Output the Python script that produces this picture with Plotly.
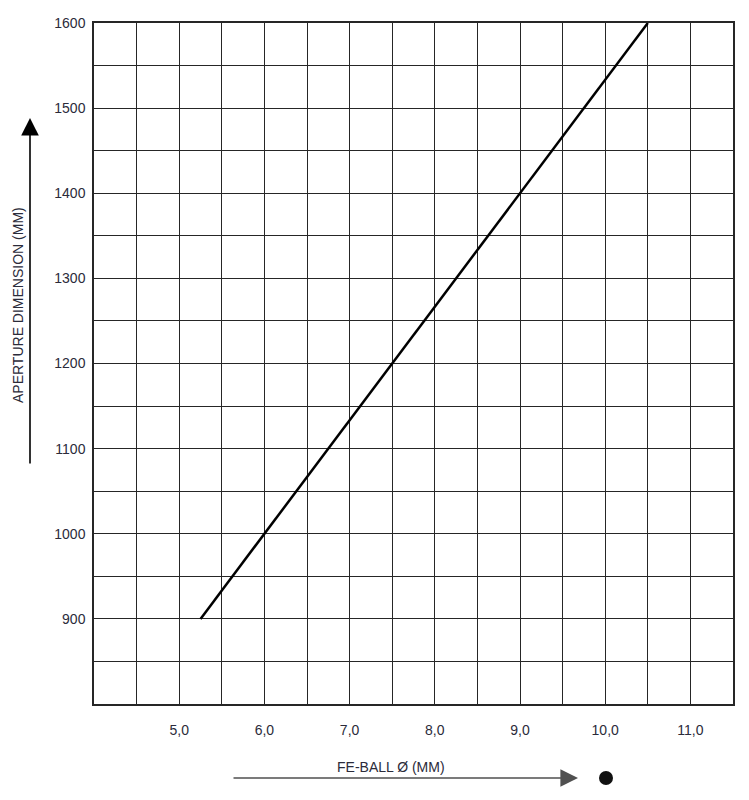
import plotly.graph_objects as go

# Data
ball_diameter = [5.25, 10.5]          # FE-BALL Ø (MM)
aperture = [900, 1600]                # APERTURE DIMENSION (MM)
x_tick_vals = [5, 6, 7, 8, 9, 10, 11]
x_tick_text = ["5,0", "6,0", "7,0", "8,0", "9,0", "10,0", "11,0"]
y_tick_vals = [900, 1000, 1100, 1200, 1300, 1400, 1500, 1600]
y_tick_text = ["900", "1000", "1100", "1200", "1300", "1400", "1500", "1600"]

W, H = 749, 800
L, R, T, B = 94, 16, 23, 96
pw, ph = W - L - R, H - T - B

def px(xp):
    return (xp - L) / pw

def py(yp):
    return (H - B - yp) / ph

fam = "Liberation Sans, Arial, sans-serif"
txtcol = "#2b2b3a"
font = dict(family=fam, size=14, color=txtcol)
grid = "#262626"

fig = go.Figure()
fig.add_trace(go.Scatter(x=ball_diameter, y=aperture, mode="lines",
                         line=dict(color="black", width=2.5),
                         showlegend=False, hoverinfo="skip"))

fig.update_xaxes(range=[4.0, 11.5], tickmode="array", tickvals=x_tick_vals,
                 ticktext=x_tick_text, showgrid=True, gridcolor=grid, gridwidth=1.2,
                 minor=dict(tick0=4.0, dtick=0.5, showgrid=True, gridcolor=grid, gridwidth=1.2),
                 showline=True, linecolor=grid, linewidth=1.5, mirror=True,
                 zeroline=False, ticks="outside", ticklen=12, tickcolor="rgba(0,0,0,0)",
                 tickfont=font)
fig.update_yaxes(range=[800, 1600], tickmode="array", tickvals=y_tick_vals,
                 ticktext=y_tick_text, showgrid=True, gridcolor=grid, gridwidth=1.2,
                 minor=dict(tick0=800, dtick=50, showgrid=True, gridcolor=grid, gridwidth=1.2),
                 showline=True, linecolor=grid, linewidth=1.5, mirror=True,
                 zeroline=False, ticks="outside", ticklen=4, tickcolor="rgba(0,0,0,0)",
                 tickfont=font)

annotations = [
    dict(text="APERTURE DIMENSION (MM)", xref="paper", yref="paper",
         x=px(18), y=py(305), textangle=-90, showarrow=False,
         xanchor="center", yanchor="middle",
         font=dict(family=fam, size=14, color=txtcol)),
    dict(text="", xref="paper", yref="paper", x=px(30), y=py(118),
         showarrow=True, ax=0, ay=347, arrowhead=2, arrowsize=2.2,
         arrowwidth=1.6, arrowcolor="black"),
    dict(text="FE-BALL Ø (MM)", xref="paper", yref="paper",
         x=px(391), y=py(767), showarrow=False,
         xanchor="center", yanchor="middle",
         font=dict(family=fam, size=14, color=txtcol)),
    dict(text="", xref="paper", yref="paper", x=px(578), y=py(778),
         showarrow=True, ax=-346, ay=0, arrowhead=2, arrowsize=2.2,
         arrowwidth=1.6, arrowcolor="#505050"),
]

shapes = [
    dict(type="circle", xref="paper", yref="paper",
         x0=px(599), x1=px(613), y0=py(785), y1=py(771),
         fillcolor="#111111", line=dict(color="#111111", width=0)),
]

fig.update_layout(width=W, height=H, margin=dict(l=L, r=R, t=T, b=B),
                  plot_bgcolor="white", paper_bgcolor="white",
                  annotations=annotations, shapes=shapes)

fig.write_html("out.html", config={"displayModeBar": False},
               post_script="document.body.style.margin='0';document.body.style.padding='0';")
